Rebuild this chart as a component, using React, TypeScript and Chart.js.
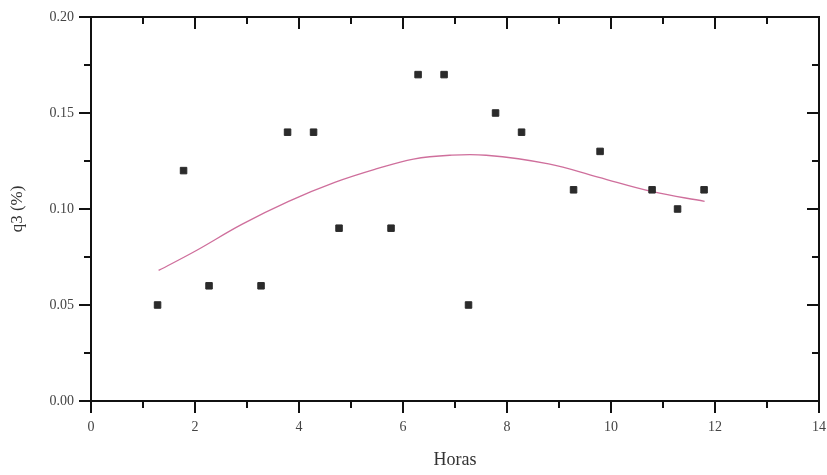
import React, { useEffect, useRef } from "react";
import { Chart, registerables } from "chart.js";

Chart.register(...registerables);

// Measured data (hours vs q3 %)
const hours = [1.28, 1.78, 2.27, 3.27, 3.78, 4.28, 4.77, 5.77, 6.29, 6.79, 7.26, 7.78, 8.28, 9.28, 9.79, 10.79, 11.28, 11.79];
const q3 = [0.05, 0.12, 0.06, 0.06, 0.14, 0.14, 0.09, 0.09, 0.17, 0.17, 0.05, 0.15, 0.14, 0.11, 0.13, 0.11, 0.10, 0.11];

// Fitted curve
const fitX = [1.3, 2.0, 2.9, 3.8, 4.7, 5.5, 6.2, 6.9, 7.6, 8.8, 9.75, 10.8, 11.8];
const fitY = [0.068, 0.078, 0.092, 0.104, 0.114, 0.121, 0.126, 0.128, 0.128, 0.1235, 0.1166, 0.109, 0.104];

// Axis ticks
const xTicks = [0, 2, 4, 6, 8, 10, 12, 14];
const yTicks = [0.0, 0.05, 0.1, 0.15, 0.2];
const xTitle = "Horas";
const yTitle = "q3 (%)";

const FONT = "'Liberation Serif', 'Times New Roman', serif";

const framePlugin = {
  id: "frame",
  afterDraw(chart: any) {
    const { ctx, chartArea } = chart;
    const xs = chart.scales.x;
    const ys = chart.scales.y;
    const { left, right, top, bottom } = chartArea;
    ctx.save();
    ctx.strokeStyle = "#111";
    ctx.lineWidth = 2;
    ctx.lineCap = "butt";
    ctx.beginPath();
    ctx.rect(left, top, right - left, bottom - top);
    ctx.stroke();

    const major = 12;
    const minor = 7;
    ctx.lineWidth = 2;
    ctx.beginPath();
    xTicks.forEach((v, i) => {
      const px = xs.getPixelForValue(v);
      ctx.moveTo(px, bottom);
      ctx.lineTo(px, bottom + major);
      ctx.moveTo(px, top);
      ctx.lineTo(px, top + major);
      if (i < xTicks.length - 1) {
        const m = xs.getPixelForValue((v + xTicks[i + 1]) / 2);
        ctx.moveTo(m, bottom);
        ctx.lineTo(m, bottom + minor);
        ctx.moveTo(m, top);
        ctx.lineTo(m, top + minor);
      }
    });
    yTicks.forEach((v, i) => {
      const py = ys.getPixelForValue(v);
      ctx.moveTo(left, py);
      ctx.lineTo(left - major, py);
      ctx.moveTo(right, py);
      ctx.lineTo(right - major, py);
      if (i < yTicks.length - 1) {
        const m = ys.getPixelForValue((v + yTicks[i + 1]) / 2);
        ctx.moveTo(left, m);
        ctx.lineTo(left - minor, m);
        ctx.moveTo(right, m);
        ctx.lineTo(right - minor, m);
      }
    });
    ctx.stroke();
    ctx.restore();
  },
};

export default function App() {
  const ref = useRef<HTMLCanvasElement | null>(null);

  useEffect(() => {
    if (!ref.current) return;
    const chart = new Chart(ref.current, {
      type: "scatter",
      data: {
        datasets: [
          {
            type: "line",
            label: "fit",
            data: fitX.map((x, i) => ({ x, y: fitY[i] })),
            borderColor: "#cf6f9c",
            borderWidth: 1.3,
            pointRadius: 0,
            fill: false,
            tension: 0.4,
            order: 2,
          },
          {
            label: "q3",
            data: hours.map((x, i) => ({ x, y: q3[i] })),
            pointStyle: "rect",
            pointRadius: 4.6,
            pointBackgroundColor: "#2b2b2b",
            pointBorderColor: "#2b2b2b",
            pointBorderWidth: 1,
            showLine: false,
            order: 1,
          } as any,
        ],
      },
      options: {
        animation: false,
        responsive: false,
        layout: { padding: { top: 17, right: 8, left: 0, bottom: 0 } },
        plugins: {
          legend: { display: false },
          tooltip: { enabled: false },
          title: { display: false },
        },
        scales: {
          x: {
            type: "linear",
            min: 0,
            max: 14,
            afterBuildTicks: (s: any) => {
              s.ticks = xTicks.map((v) => ({ value: v }));
            },
            afterFit: (s: any) => {
              s.height = 74;
              s.paddingLeft = 0;
              s.paddingRight = 0;
            },
            grid: { display: false, drawTicks: false },
            border: { display: false },
            ticks: {
              padding: 18,
              maxRotation: 0,
              color: "#444",
              font: { family: FONT, size: 14 },
              callback: (v: any) => String(v),
            },
            title: {
              display: true,
              text: xTitle,
              color: "#333",
              font: { family: FONT, size: 18 },
              padding: { top: 0, bottom: 4 },
            },
          },
          y: {
            type: "linear",
            min: 0,
            max: 0.2,
            afterBuildTicks: (s: any) => {
              s.ticks = yTicks.map((v) => ({ value: v }));
            },
            afterFit: (s: any) => {
              s.width = 91;
              s.paddingTop = 0;
              s.paddingBottom = 0;
            },
            grid: { display: false, drawTicks: false },
            border: { display: false },
            ticks: {
              padding: 17,
              color: "#444",
              font: { family: FONT, size: 14 },
              callback: (v: any) => Number(v).toFixed(2),
            },
            title: {
              display: true,
              text: yTitle,
              color: "#333",
              font: { family: FONT, size: 17 },
              padding: { top: 7, bottom: 0 },
            },
          },
        },
      },
      plugins: [framePlugin],
    });
    return () => chart.destroy();
  }, []);

  return (
    <div style={{ position: "fixed", left: 0, top: 0, width: 827, height: 475, background: "#fff" }}>
      <canvas ref={ref} width={827} height={475} style={{ display: "block" }} />
    </div>
  );
}
